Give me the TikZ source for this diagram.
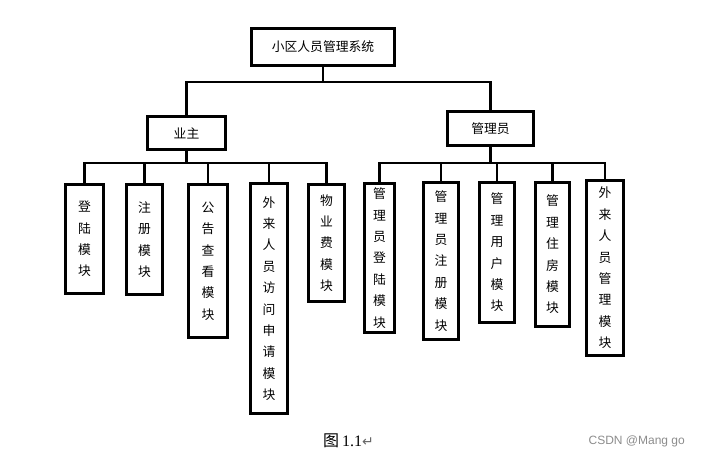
\documentclass[tikz,border=0pt]{standalone}
\usepackage{fontspec}
\newfontfamily\cjk{Noto Sans CJK SC}
\newfontfamily\capserif{Liberation Serif}
\newfontfamily\capsym{DejaVu Sans}
\newfontfamily\marksans{Liberation Sans}
\tikzset{
	box/.style={draw=black, line width=2.6pt, inner sep=2pt, align=center,
		font=\cjk\fontsize{12.8}{21.4}\selectfont},
	link/.style={black, line width=2.6pt}
}
\begin{document}
\begin{tikzpicture}[x=1pt, y=-1pt]
	\useasboundingbox (0,0) rectangle (702,455);
	% top levels
	\node[box, minimum width=143, minimum height=37] (sys) at (323,47) {小区人员管理系统};
	\node[box, minimum width=78, minimum height=33] (yz) at (186.5,133) {业主};
	\node[box, minimum width=86, minimum height=34] (gly) at (490.5,128.5) {管理员};
	% owner modules
	\node[box, minimum width=38, minimum height=109] (m1) at (84.5,239) {登\\陆\\模\\块};
	\node[box, minimum width=36, minimum height=110] (m2) at (144.5,239.5) {注\\册\\模\\块};
	\node[box, minimum width=39, minimum height=153] (m3) at (208,261) {公\\告\\查\\看\\模\\块};
	\node[box, minimum width=37, minimum height=230] (m4) at (269,298.5) {外\\来\\人\\员\\访\\问\\申\\请\\模\\块};
	\node[box, minimum width=36, minimum height=117] (m5) at (326.5,243) {物\\业\\费\\模\\块};
	% admin modules
	\node[box, minimum width=30, minimum height=149] (r1) at (379.5,258) {管\\理\\员\\登\\陆\\模\\块};
	\node[box, minimum width=35, minimum height=157] (r2) at (441,261) {管\\理\\员\\注\\册\\模\\块};
	\node[box, minimum width=35, minimum height=140] (r3) at (497,252.5) {管\\理\\用\\户\\模\\块};
	\node[box, minimum width=34, minimum height=144] (r4) at (552.5,254.5) {管\\理\\住\\房\\模\\块};
	\node[box, minimum width=37, minimum height=175] (r5) at (605,268) {外\\来\\人\\员\\管\\理\\模\\块};
	% bars
	\coordinate (bar0) at (323,82);
	\coordinate (bar1) at (186.5,163);
	\coordinate (bar2) at (490.5,163);
	\draw[link] (sys.south) -- (bar0);
	\draw[link] (yz.north) |- (bar0) -| (gly.north);
	\draw[link] (yz.south) -- (bar1);
	\draw[link] (gly.south) -- (bar2);
	\draw[link] (m1.north) |- (bar1) -| (m5.north);
	\draw[link] (r1.north) |- (bar2) -| (r5.north);
	\foreach \n in {m2,m3,m4}
		\draw[link] (\n.north) -- (\n.north |- bar1);
	\foreach \n in {r2,r3,r4}
		\draw[link] (\n.north) -- (\n.north |- bar2);
	% caption
	\node[inner sep=0pt, anchor=base] (cap) at (348.5,446)
		{\cjk\fontsize{16}{16}\selectfont 图\hspace{3pt}\capserif 1.1\capsym\color{black!60}\fontsize{14}{14}\selectfont ↵};
	\node[inner sep=0pt, anchor=base east, text=black!45] (mark) at (685,444)
		{\marksans\fontsize{12}{12}\selectfont CSDN @Mang go};
\end{tikzpicture}
\end{document}
